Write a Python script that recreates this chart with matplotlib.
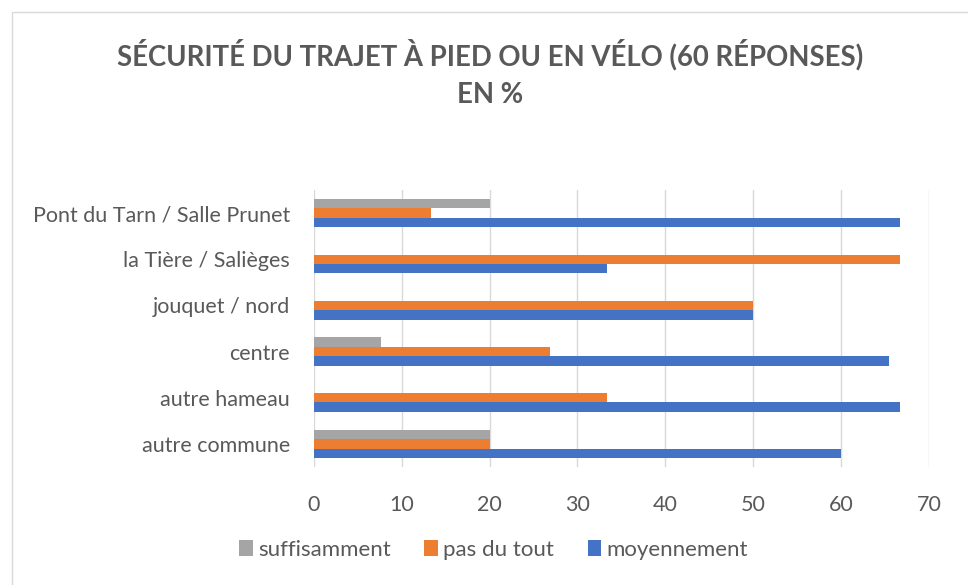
import matplotlib
matplotlib.use('Agg')
import matplotlib.pyplot as plt
import numpy as np
from matplotlib.patches import Rectangle

plt.rcParams['font.family'] = ['Lato', 'DejaVu Sans']

# données (en %)
categories = ['autre commune', 'autre hameau', 'centre', 'jouquet / nord',
              'la Tière / Salièges', 'Pont du Tarn / Salle Prunet']
moyennement = [60, 66.7, 65.4, 50, 33.3, 66.7]
pas_du_tout = [20, 33.3, 26.9, 50, 66.7, 13.3]
suffisamment = [20, 0, 7.7, 0, 0, 20]
xticks = [0, 10, 20, 30, 40, 50, 60, 70]

txt = '#595959'
fig = plt.figure(figsize=(9.68, 5.85), dpi=100)
ax = fig.add_axes([0.324, 0.2017, 0.636, 0.4735])

y = np.arange(len(categories))
h = 0.205
ax.barh(y - h, moyennement, height=h, color='#4472C4', label='moyennement', zorder=3)
ax.barh(y, pas_du_tout, height=h, color='#ED7D31', label='pas du tout', zorder=3)
ax.barh(y + h, suffisamment, height=h, color='#A5A5A5', label='suffisamment', zorder=3)

ax.set_xlim(0, 70)
ax.set_ylim(-0.5, len(categories) - 0.5)
ax.set_xticks(xticks)
ax.set_yticks(y)
ax.set_yticklabels(categories)
ax.tick_params(axis='both', length=0, labelsize=15.5, labelcolor=txt)
ax.tick_params(axis='x', pad=20)
ax.tick_params(axis='y', pad=17)
ax.grid(axis='x', color='#D9D9D9', linewidth=1, zorder=0)
for s in ax.spines.values():
    s.set_visible(False)

fig.text(0.506, 0.906, 'SÉCURITÉ DU TRAJET À PIED OU EN VÉLO (60 RÉPONSES)',
         ha='center', va='center', fontsize=19.8, fontweight='bold', color=txt)
fig.text(0.506, 0.838, 'EN %', ha='center', va='center', fontsize=19.8,
         fontweight='bold', color=txt)

# légende en bas, ordre inversé comme dans Excel
handles, labels = ax.get_legend_handles_labels()
leg = fig.legend(handles[::-1], labels[::-1], loc='center', bbox_to_anchor=(0.51, 0.06),
                 ncol=3, frameon=False, fontsize=16, handlelength=0.6, handleheight=0.7,
                 columnspacing=1.5, handletextpad=0.25)
for t in leg.get_texts():
    t.set_color(txt)

fig.patches.append(Rectangle((0.012, -0.01), 1.0, 0.99, transform=fig.transFigure,
                             fill=False, edgecolor='#D9D9D9', linewidth=1))

fig.savefig('out.png', dpi=100)
